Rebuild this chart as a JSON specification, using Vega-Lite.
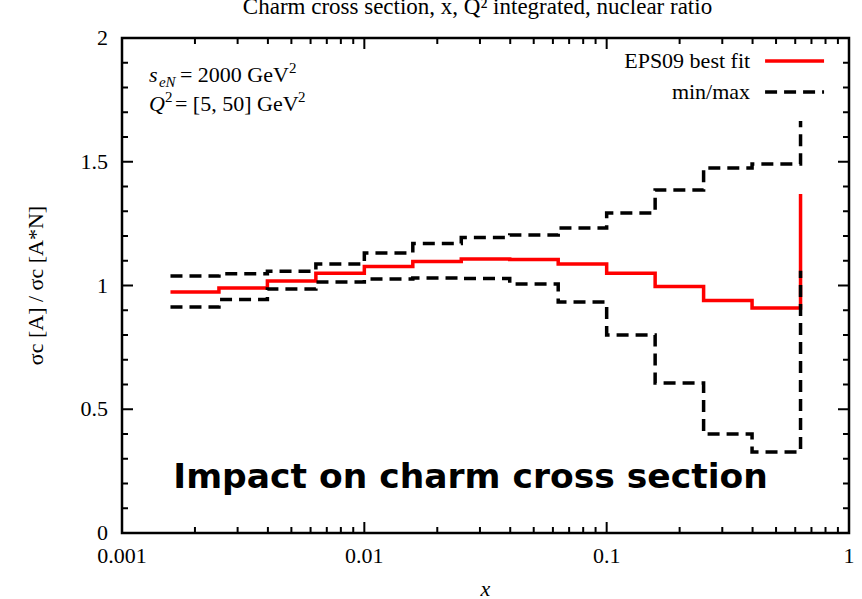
{
  "$schema": "https://vega.github.io/schema/vega-lite/v6.json",
  "width": 727,
  "height": 495,
  "autosize": {"type": "none"},
  "padding": {"left": 122, "top": 38, "right": 13, "bottom": 66},
  "background": "white",
  "config": {"view": {"stroke": "black", "strokeWidth": 2.5}, "font": "Liberation Serif"},
  "title": {"text": "Charm cross section, x, Q² integrated, nuclear ratio", "font": "Liberation Serif", "fontSize": 23, "fontWeight": "normal", "color": "black", "offset": 8, "dx": -8},
  "datasets": {
    "steps": [
      {"x": 0.001585, "series": "best", "r": 0.974},
      {"x": 0.002512, "series": "best", "r": 0.99},
      {"x": 0.003981, "series": "best", "r": 1.018},
      {"x": 0.00631, "series": "best", "r": 1.05},
      {"x": 0.01, "series": "best", "r": 1.077},
      {"x": 0.01585, "series": "best", "r": 1.097},
      {"x": 0.02512, "series": "best", "r": 1.107},
      {"x": 0.03981, "series": "best", "r": 1.105},
      {"x": 0.0631, "series": "best", "r": 1.087},
      {"x": 0.1, "series": "best", "r": 1.05},
      {"x": 0.1585, "series": "best", "r": 0.996},
      {"x": 0.2512, "series": "best", "r": 0.939},
      {"x": 0.3981, "series": "best", "r": 0.909},
      {"x": 0.631, "series": "best", "r": 1.37},
      {"x": 0.001585, "series": "max", "r": 1.038},
      {"x": 0.002512, "series": "max", "r": 1.047},
      {"x": 0.003981, "series": "max", "r": 1.058},
      {"x": 0.00631, "series": "max", "r": 1.087},
      {"x": 0.01, "series": "max", "r": 1.131},
      {"x": 0.01585, "series": "max", "r": 1.17},
      {"x": 0.02512, "series": "max", "r": 1.194},
      {"x": 0.03981, "series": "max", "r": 1.204},
      {"x": 0.0631, "series": "max", "r": 1.232},
      {"x": 0.1, "series": "max", "r": 1.293},
      {"x": 0.1585, "series": "max", "r": 1.386},
      {"x": 0.2512, "series": "max", "r": 1.475},
      {"x": 0.3981, "series": "max", "r": 1.491},
      {"x": 0.631, "series": "max", "r": 1.665},
      {"x": 0.001585, "series": "min", "r": 0.913},
      {"x": 0.002512, "series": "min", "r": 0.943},
      {"x": 0.003981, "series": "min", "r": 0.986},
      {"x": 0.00631, "series": "min", "r": 1.014},
      {"x": 0.01, "series": "min", "r": 1.026},
      {"x": 0.01585, "series": "min", "r": 1.03},
      {"x": 0.02512, "series": "min", "r": 1.028},
      {"x": 0.03981, "series": "min", "r": 1.006},
      {"x": 0.0631, "series": "min", "r": 0.933},
      {"x": 0.1, "series": "min", "r": 0.8},
      {"x": 0.1585, "series": "min", "r": 0.606},
      {"x": 0.2512, "series": "min", "r": 0.4},
      {"x": 0.3981, "series": "min", "r": 0.327},
      {"x": 0.631, "series": "min", "r": 1.06}
    ],
    "xticks": [
      {"v": 0.001, "kind": "major"}, {"v": 0.002, "kind": "minor"}, {"v": 0.003, "kind": "minor"}, {"v": 0.004, "kind": "minor"}, {"v": 0.005, "kind": "minor"}, {"v": 0.006, "kind": "minor"}, {"v": 0.007, "kind": "minor"}, {"v": 0.008, "kind": "minor"}, {"v": 0.009, "kind": "minor"},
      {"v": 0.01, "kind": "major"}, {"v": 0.02, "kind": "minor"}, {"v": 0.03, "kind": "minor"}, {"v": 0.04, "kind": "minor"}, {"v": 0.05, "kind": "minor"}, {"v": 0.06, "kind": "minor"}, {"v": 0.07, "kind": "minor"}, {"v": 0.08, "kind": "minor"}, {"v": 0.09, "kind": "minor"},
      {"v": 0.1, "kind": "major"}, {"v": 0.2, "kind": "minor"}, {"v": 0.3, "kind": "minor"}, {"v": 0.4, "kind": "minor"}, {"v": 0.5, "kind": "minor"}, {"v": 0.6, "kind": "minor"}, {"v": 0.7, "kind": "minor"}, {"v": 0.8, "kind": "minor"}, {"v": 0.9, "kind": "minor"},
      {"v": 1, "kind": "major"}
    ],
    "yticks": [
      {"v": 0, "kind": "major"}, {"v": 0.1, "kind": "minor"}, {"v": 0.2, "kind": "minor"}, {"v": 0.3, "kind": "minor"}, {"v": 0.4, "kind": "minor"},
      {"v": 0.5, "kind": "major"}, {"v": 0.6, "kind": "minor"}, {"v": 0.7, "kind": "minor"}, {"v": 0.8, "kind": "minor"}, {"v": 0.9, "kind": "minor"},
      {"v": 1, "kind": "major"}, {"v": 1.1, "kind": "minor"}, {"v": 1.2, "kind": "minor"}, {"v": 1.3, "kind": "minor"}, {"v": 1.4, "kind": "minor"},
      {"v": 1.5, "kind": "major"}, {"v": 1.6, "kind": "minor"}, {"v": 1.7, "kind": "minor"}, {"v": 1.8, "kind": "minor"}, {"v": 1.9, "kind": "minor"},
      {"v": 2, "kind": "major"}
    ],
    "legend": [
      {"series": "best", "label": "EPS09 best fit", "tx": 0.3908, "sx1": 0.4505, "sx2": 0.789, "y": 1.907},
      {"series": "minmax", "label": "min/max", "tx": 0.3908, "sx1": 0.4505, "sx2": 0.789, "y": 1.782}
    ],
    "notes": [
      {"key": "l1", "x": 0.001292, "y": 1.822},
      {"key": "l2", "x": 0.001292, "y": 1.705},
      {"key": "big", "x": 0.02743, "y": 0.182},
      {"key": "xt", "x": 0.03162, "y": 0},
      {"key": "yt", "x": 0.001, "y": 1}
    ]
  },
  "layer": [
    {
      "mark": {"type": "rule", "strokeDash": [1, 2], "strokeWidth": 1, "color": "black"},
      "encoding": {"y": {"datum": 1, "type": "quantitative", "scale": {"domain": [0, 2]}, "axis": null}}
    },
    {
      "data": {"name": "xticks"},
      "transform": [{"filter": "datum.kind == 'major'"}],
      "mark": {"type": "tick", "orient": "vertical", "color": "black", "thickness": 2, "size": 11, "yOffset": -5.5, "opacity": 1},
      "encoding": {
        "x": {"field": "v", "type": "quantitative", "scale": {"type": "log", "domain": [0.001, 1]}, "axis": null},
        "y": {"datum": 0, "type": "quantitative", "scale": {"domain": [0, 2]}, "axis": null}
      }
    },
    {
      "data": {"name": "xticks"},
      "transform": [{"filter": "datum.kind == 'minor'"}],
      "mark": {"type": "tick", "orient": "vertical", "color": "black", "thickness": 2, "size": 6, "yOffset": -3, "opacity": 1},
      "encoding": {
        "x": {"field": "v", "type": "quantitative", "scale": {"type": "log", "domain": [0.001, 1]}, "axis": null},
        "y": {"datum": 0, "type": "quantitative", "scale": {"domain": [0, 2]}, "axis": null}
      }
    },
    {
      "data": {"name": "xticks"},
      "transform": [{"filter": "datum.kind == 'major'"}],
      "mark": {"type": "tick", "orient": "vertical", "color": "black", "thickness": 2, "size": 11, "yOffset": 5.5, "opacity": 1},
      "encoding": {
        "x": {"field": "v", "type": "quantitative", "scale": {"type": "log", "domain": [0.001, 1]}, "axis": null},
        "y": {"datum": 2, "type": "quantitative", "scale": {"domain": [0, 2]}, "axis": null}
      }
    },
    {
      "data": {"name": "xticks"},
      "transform": [{"filter": "datum.kind == 'minor'"}],
      "mark": {"type": "tick", "orient": "vertical", "color": "black", "thickness": 2, "size": 6, "yOffset": 3, "opacity": 1},
      "encoding": {
        "x": {"field": "v", "type": "quantitative", "scale": {"type": "log", "domain": [0.001, 1]}, "axis": null},
        "y": {"datum": 2, "type": "quantitative", "scale": {"domain": [0, 2]}, "axis": null}
      }
    },
    {
      "data": {"name": "yticks"},
      "transform": [{"filter": "datum.kind == 'major'"}],
      "mark": {"type": "tick", "orient": "horizontal", "color": "black", "thickness": 2, "size": 11, "xOffset": 5.5, "opacity": 1},
      "encoding": {
        "y": {"field": "v", "type": "quantitative", "scale": {"domain": [0, 2]}, "axis": null},
        "x": {"datum": 0.001, "type": "quantitative", "scale": {"type": "log", "domain": [0.001, 1]}, "axis": null}
      }
    },
    {
      "data": {"name": "yticks"},
      "transform": [{"filter": "datum.kind == 'minor'"}],
      "mark": {"type": "tick", "orient": "horizontal", "color": "black", "thickness": 2, "size": 6, "xOffset": 3, "opacity": 1},
      "encoding": {
        "y": {"field": "v", "type": "quantitative", "scale": {"domain": [0, 2]}, "axis": null},
        "x": {"datum": 0.001, "type": "quantitative", "scale": {"type": "log", "domain": [0.001, 1]}, "axis": null}
      }
    },
    {
      "data": {"name": "yticks"},
      "transform": [{"filter": "datum.kind == 'major'"}],
      "mark": {"type": "tick", "orient": "horizontal", "color": "black", "thickness": 2, "size": 11, "xOffset": -5.5, "opacity": 1},
      "encoding": {
        "y": {"field": "v", "type": "quantitative", "scale": {"domain": [0, 2]}, "axis": null},
        "x": {"datum": 1, "type": "quantitative", "scale": {"type": "log", "domain": [0.001, 1]}, "axis": null}
      }
    },
    {
      "data": {"name": "yticks"},
      "transform": [{"filter": "datum.kind == 'minor'"}],
      "mark": {"type": "tick", "orient": "horizontal", "color": "black", "thickness": 2, "size": 6, "xOffset": -3, "opacity": 1},
      "encoding": {
        "y": {"field": "v", "type": "quantitative", "scale": {"domain": [0, 2]}, "axis": null},
        "x": {"datum": 1, "type": "quantitative", "scale": {"type": "log", "domain": [0.001, 1]}, "axis": null}
      }
    },
    {
      "data": {"name": "xticks"},
      "transform": [{"filter": "datum.kind == 'major'"}],
      "mark": {"type": "text", "align": "center", "baseline": "top", "dy": 13, "font": "Liberation Serif", "fontSize": 22, "color": "black"},
      "encoding": {
        "x": {"field": "v", "type": "quantitative", "scale": {"type": "log", "domain": [0.001, 1]}, "axis": null},
        "y": {"datum": 0, "type": "quantitative", "scale": {"domain": [0, 2]}, "axis": null},
        "text": {"field": "v", "type": "quantitative", "format": "~g"}
      }
    },
    {
      "data": {"name": "yticks"},
      "transform": [{"filter": "datum.kind == 'major'"}],
      "mark": {"type": "text", "align": "right", "baseline": "middle", "dx": -14, "font": "Liberation Serif", "fontSize": 22, "color": "black"},
      "encoding": {
        "y": {"field": "v", "type": "quantitative", "scale": {"domain": [0, 2]}, "axis": null},
        "x": {"datum": 0.001, "type": "quantitative", "scale": {"type": "log", "domain": [0.001, 1]}, "axis": null},
        "text": {"field": "v", "type": "quantitative", "format": "~g"}
      }
    },
    {
      "data": {"name": "notes"},
      "transform": [{"filter": "datum.key == 'xt'"}],
      "mark": {"type": "text", "align": "center", "baseline": "middle", "dy": 56, "font": "Liberation Serif", "fontSize": 22, "fontStyle": "italic", "color": "black"},
      "encoding": {
        "x": {"field": "x", "type": "quantitative", "scale": {"type": "log", "domain": [0.001, 1]}, "axis": null},
        "y": {"field": "y", "type": "quantitative", "scale": {"domain": [0, 2]}, "axis": null},
        "text": {"value": "x"}
      }
    },
    {
      "data": {"name": "notes"},
      "transform": [{"filter": "datum.key == 'yt'"}],
      "mark": {"type": "text", "align": "center", "baseline": "middle", "angle": 270, "dy": -86, "font": "Liberation Serif", "fontSize": 22, "color": "black"},
      "encoding": {
        "x": {"field": "x", "type": "quantitative", "scale": {"type": "log", "domain": [0.001, 1]}, "axis": null},
        "y": {"field": "y", "type": "quantitative", "scale": {"domain": [0, 2]}, "axis": null},
        "text": {"value": "σc [A] / σc [A*N]"}
      }
    },
    {
      "data": {"name": "steps"},
      "transform": [{"filter": "datum.series == 'best'"}],
      "mark": {"type": "line", "interpolate": "step-after", "color": "#ff0000", "strokeWidth": 3.5, "strokeCap": "butt"},
      "encoding": {
        "x": {"field": "x", "type": "quantitative", "scale": {"type": "log", "domain": [0.001, 1]}, "axis": null},
        "y": {"field": "r", "type": "quantitative", "scale": {"domain": [0, 2]}, "axis": null}
      }
    },
    {
      "data": {"name": "steps"},
      "transform": [{"filter": "datum.series != 'best'"}],
      "mark": {"type": "line", "interpolate": "step-after", "color": "black", "strokeWidth": 3.5, "strokeDash": [12, 7], "strokeCap": "butt"},
      "encoding": {
        "detail": {"field": "series"},
        "x": {"field": "x", "type": "quantitative", "scale": {"type": "log", "domain": [0.001, 1]}, "axis": null},
        "y": {"field": "r", "type": "quantitative", "scale": {"domain": [0, 2]}, "axis": null}
      }
    },
    {
      "data": {"name": "legend"},
      "mark": {"type": "text", "align": "right", "baseline": "middle", "font": "Liberation Serif", "fontSize": 22, "color": "black"},
      "encoding": {
        "x": {"field": "tx", "type": "quantitative", "scale": {"type": "log", "domain": [0.001, 1]}, "axis": null},
        "y": {"field": "y", "type": "quantitative", "scale": {"domain": [0, 2]}, "axis": null},
        "text": {"field": "label"}
      }
    },
    {
      "data": {"name": "legend"},
      "transform": [{"filter": "datum.series == 'best'"}],
      "mark": {"type": "rule", "color": "#ff0000", "strokeWidth": 3.5},
      "encoding": {
        "x": {"field": "sx1", "type": "quantitative", "scale": {"type": "log", "domain": [0.001, 1]}, "axis": null},
        "x2": {"field": "sx2"},
        "y": {"field": "y", "type": "quantitative", "scale": {"domain": [0, 2]}, "axis": null}
      }
    },
    {
      "data": {"name": "legend"},
      "transform": [{"filter": "datum.series == 'minmax'"}],
      "mark": {"type": "rule", "color": "black", "strokeWidth": 3.5, "strokeDash": [12, 7]},
      "encoding": {
        "x": {"field": "sx1", "type": "quantitative", "scale": {"type": "log", "domain": [0.001, 1]}, "axis": null},
        "x2": {"field": "sx2"},
        "y": {"field": "y", "type": "quantitative", "scale": {"domain": [0, 2]}, "axis": null}
      }
    },
    {
      "data": {"name": "notes"},
      "transform": [{"filter": "datum.key == 'l1'"}],
      "mark": {"type": "text", "align": "left", "baseline": "alphabetic", "font": "Liberation Serif", "fontSize": 22, "fontStyle": "italic", "color": "black"},
      "encoding": {
        "x": {"field": "x", "type": "quantitative", "scale": {"type": "log", "domain": [0.001, 1]}, "axis": null},
        "y": {"field": "y", "type": "quantitative", "scale": {"domain": [0, 2]}, "axis": null},
        "text": {"value": "s"}
      }
    },
    {
      "data": {"name": "notes"},
      "transform": [{"filter": "datum.key == 'l1'"}],
      "mark": {"type": "text", "align": "left", "baseline": "alphabetic", "font": "Liberation Serif", "fontSize": 15, "fontStyle": "italic", "color": "black", "dx": 10, "dy": 5},
      "encoding": {
        "x": {"field": "x", "type": "quantitative", "scale": {"type": "log", "domain": [0.001, 1]}, "axis": null},
        "y": {"field": "y", "type": "quantitative", "scale": {"domain": [0, 2]}, "axis": null},
        "text": {"value": "eN"}
      }
    },
    {
      "data": {"name": "notes"},
      "transform": [{"filter": "datum.key == 'l1'"}],
      "mark": {"type": "text", "align": "left", "baseline": "alphabetic", "font": "Liberation Serif", "fontSize": 22, "color": "black", "dx": 31},
      "encoding": {
        "x": {"field": "x", "type": "quantitative", "scale": {"type": "log", "domain": [0.001, 1]}, "axis": null},
        "y": {"field": "y", "type": "quantitative", "scale": {"domain": [0, 2]}, "axis": null},
        "text": {"value": "= 2000 GeV"}
      }
    },
    {
      "data": {"name": "notes"},
      "transform": [{"filter": "datum.key == 'l1'"}],
      "mark": {"type": "text", "align": "left", "baseline": "alphabetic", "font": "Liberation Serif", "fontSize": 15, "color": "black", "dx": 140, "dy": -9},
      "encoding": {
        "x": {"field": "x", "type": "quantitative", "scale": {"type": "log", "domain": [0.001, 1]}, "axis": null},
        "y": {"field": "y", "type": "quantitative", "scale": {"domain": [0, 2]}, "axis": null},
        "text": {"value": "2"}
      }
    },
    {
      "data": {"name": "notes"},
      "transform": [{"filter": "datum.key == 'l2'"}],
      "mark": {"type": "text", "align": "left", "baseline": "alphabetic", "font": "Liberation Serif", "fontSize": 22, "fontStyle": "italic", "color": "black"},
      "encoding": {
        "x": {"field": "x", "type": "quantitative", "scale": {"type": "log", "domain": [0.001, 1]}, "axis": null},
        "y": {"field": "y", "type": "quantitative", "scale": {"domain": [0, 2]}, "axis": null},
        "text": {"value": "Q"}
      }
    },
    {
      "data": {"name": "notes"},
      "transform": [{"filter": "datum.key == 'l2'"}],
      "mark": {"type": "text", "align": "left", "baseline": "alphabetic", "font": "Liberation Serif", "fontSize": 15, "color": "black", "dx": 16, "dy": -9},
      "encoding": {
        "x": {"field": "x", "type": "quantitative", "scale": {"type": "log", "domain": [0.001, 1]}, "axis": null},
        "y": {"field": "y", "type": "quantitative", "scale": {"domain": [0, 2]}, "axis": null},
        "text": {"value": "2"}
      }
    },
    {
      "data": {"name": "notes"},
      "transform": [{"filter": "datum.key == 'l2'"}],
      "mark": {"type": "text", "align": "left", "baseline": "alphabetic", "font": "Liberation Serif", "fontSize": 22, "color": "black", "dx": 26},
      "encoding": {
        "x": {"field": "x", "type": "quantitative", "scale": {"type": "log", "domain": [0.001, 1]}, "axis": null},
        "y": {"field": "y", "type": "quantitative", "scale": {"domain": [0, 2]}, "axis": null},
        "text": {"value": "= [5, 50] GeV"}
      }
    },
    {
      "data": {"name": "notes"},
      "transform": [{"filter": "datum.key == 'l2'"}],
      "mark": {"type": "text", "align": "left", "baseline": "alphabetic", "font": "Liberation Serif", "fontSize": 15, "color": "black", "dx": 149, "dy": -9},
      "encoding": {
        "x": {"field": "x", "type": "quantitative", "scale": {"type": "log", "domain": [0.001, 1]}, "axis": null},
        "y": {"field": "y", "type": "quantitative", "scale": {"domain": [0, 2]}, "axis": null},
        "text": {"value": "2"}
      }
    },
    {
      "data": {"name": "notes"},
      "transform": [{"filter": "datum.key == 'big'"}],
      "mark": {"type": "text", "align": "center", "baseline": "alphabetic", "font": "DejaVu Sans", "fontWeight": "bold", "fontSize": 34.5, "color": "black"},
      "encoding": {
        "x": {"field": "x", "type": "quantitative", "scale": {"type": "log", "domain": [0.001, 1]}, "axis": null},
        "y": {"field": "y", "type": "quantitative", "scale": {"domain": [0, 2]}, "axis": null},
        "text": {"value": "Impact on charm cross section"}
      }
    }
  ]
}
